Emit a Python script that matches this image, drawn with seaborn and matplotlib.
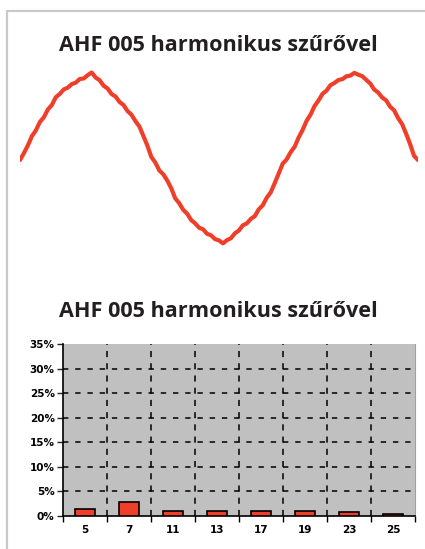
import numpy as np
import pandas as pd
import matplotlib
matplotlib.use("Agg")
import matplotlib.pyplot as plt
from matplotlib.lines import Line2D
from matplotlib.ticker import FuncFormatter, MultipleLocator
import seaborn as sns

sns.set_style("ticks")
plt.rcParams['font.family'] = ['DejaVu Sans']

# ---- data ----
title_text = "AHF 005 harmonikus szűrővel"
RED = "#ef3f2a"

# current waveform (arbitrary units), samples every 0.3 ms
wave_values = [
    -2, 5, 12.8, 21.9, 27.7, 36, 40.8, 48.5, 53, 60.8,
    64.1, 68.6, 70.3, 73.9, 75.3, 79, 79.5, 82.8, 85.5, 80.5,
    77.8, 72.3, 69.5, 64, 61.5, 56.1, 53, 47, 43.3, 36.9,
    31.5, 22, 12.4, 1, -4.5, -12.4, -16.3, -22.5, -30.2, -40.3,
    -45.2, -51.8, -55.7, -62, -65.3, -69.7, -71.3, -75.8, -77.3, -81.1,
    -82.4, -85.4, -82.1, -80.2, -75.3, -72.5, -67.3, -65.4, -60.9, -58.1,
    -51.3, -47.2, -39.7, -34.3, -25.1, -15.5, -5.7, -1.4, 5.8, 11.2,
    20.4, 28, 37.1, 43.4, 51.9, 57.5, 64.1, 67.3, 72.8, 75,
    78, 78.8, 81.7, 82.4, 85.1, 83.3, 81.8, 78.1, 74.5, 68.5,
    65.5, 60.5, 57.6, 51.3, 47.7, 39.9, 33.9, 24.4, 14.1, 2.2,
    -2,
]
wave_time = np.arange(len(wave_values)) * 0.3

harmonics = ["5", "7", "11", "13", "17", "19", "23", "25"]
harmonic_pct = [1.4, 2.8, 1.0, 1.0, 1.0, 1.0, 0.75, 0.35]
y_ticks = [0, 5, 10, 15, 20, 25, 30, 35]

W, H = 425, 549
fig = plt.figure(figsize=(W / 100, H / 100), dpi=100)
fig.patch.set_facecolor("white")

# frame lines (left and top)
fig.add_artist(Line2D([6.5 / W, 6.5 / W], [0, 1 - 11 / H], color="#c9c9c9", lw=1.6))
fig.add_artist(Line2D([6.5 / W, 1], [1 - 11 / H, 1 - 11 / H], color="#c9c9c9", lw=1.6))

# ---- titles ----
for base in (50.7, 316.7):
    fig.text(218 / W, 1 - base / H, title_text, ha="center", va="baseline",
             fontsize=15.6, fontweight="bold", family=["Open Sans", "DejaVu Sans"],
             color="#231f20")

# ---- waveform ----
ax1 = fig.add_axes([20 / W, 1 - 258 / H, 398 / W, 200 / H])
df_w = pd.DataFrame({"t": wave_time, "v": wave_values})
sns.lineplot(data=df_w, x="t", y="v", ax=ax1, color=RED, lw=3.0, sort=False)
ax1.set_xlim(wave_time[0], wave_time[-1])
ax1.set_ylim(-100, 100)
ax1.axis("off")

# ---- harmonic spectrum ----
ax2 = fig.add_axes([63 / W, 1 - 515.7 / H, 352 / W, 171.5 / H])
ax2.set_facecolor("#c0c0c0")
df_h = pd.DataFrame({"h": harmonics, "p": harmonic_pct})
sns.barplot(data=df_h, x="h", y="p", order=harmonics, ax=ax2, color=RED,
            saturation=1, width=0.45, edgecolor="black", linewidth=1.2, zorder=3)
ax2.set_xlim(-0.5, len(harmonics) - 0.5)
ax2.set_ylim(0, 35)
ax2.set_xlabel("")
ax2.set_ylabel("")

# grid
for yv in y_ticks[1:-1]:
    ax2.axhline(yv, color="black", lw=1.1, ls=(0, (3.5, 4.5)), zorder=1)
for i in range(1, len(harmonics)):
    ax2.axvline(i - 0.5, color="black", lw=1.1, ls=(0, (4, 4)), zorder=1)

ax2.set_yticks(y_ticks)
ax2.yaxis.set_major_formatter(FuncFormatter(lambda v, p: f"{int(v)}%"))
ax2.set_xticks(range(len(harmonics)))
ax2.set_xticklabels(harmonics)
ax2.xaxis.set_minor_locator(MultipleLocator(1, offset=0.5))
ax2.tick_params(axis="x", which="major", length=0, pad=7, labelsize=7.5, labelcolor="black")
ax2.tick_params(axis="x", which="minor", length=4, width=1.0, direction="out", color="black")
ax2.tick_params(axis="y", length=4, width=1.0, pad=2, labelsize=7.5, labelcolor="black")
for lab in ax2.get_xticklabels() + ax2.get_yticklabels():
    lab.set_fontweight("bold")

ax2.spines["top"].set_visible(False)
ax2.spines["right"].set_color("#a0a0a0")
ax2.spines["right"].set_linewidth(0.8)
ax2.spines["left"].set_color("black")
ax2.spines["bottom"].set_color("black")
ax2.spines["left"].set_linewidth(1.2)
ax2.spines["bottom"].set_linewidth(1.2)

fig.savefig("out.png", dpi=100)
